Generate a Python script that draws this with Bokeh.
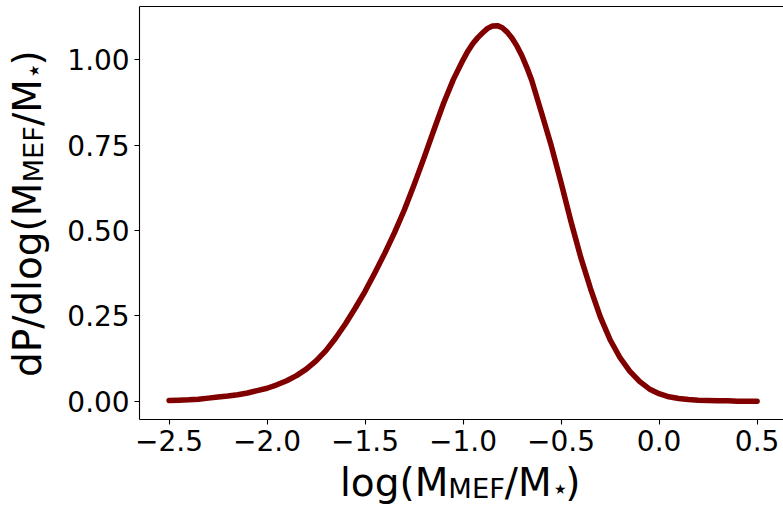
import math
from bokeh.plotting import figure
from bokeh.models import (Range1d, Label, FixedTicker, CustomJSTickFormatter,
                          ColumnDataSource, LinearAxis)
from bokeh.embed import file_html
from bokeh.resources import INLINE

# ---- data ----
log_ratio = [-2.50, -2.45, -2.40, -2.35, -2.30, -2.25, -2.20, -2.15, -2.10, -2.05,
             -2.00, -1.95, -1.90, -1.85, -1.80, -1.75, -1.70, -1.65, -1.60, -1.55,
             -1.50, -1.45, -1.40, -1.35, -1.30, -1.25, -1.20, -1.15, -1.10, -1.05,
             -1.00, -0.975, -0.95, -0.925, -0.90, -0.875, -0.85, -0.825, -0.80, -0.775,
             -0.75, -0.725, -0.70, -0.675, -0.65, -0.60, -0.55,
             -0.50, -0.45, -0.40, -0.35, -0.30, -0.25, -0.20, -0.15, -0.10, -0.05,
             0.00, 0.05, 0.10, 0.15, 0.20, 0.25, 0.30, 0.35, 0.40, 0.45, 0.50]
density = [0.002, 0.003, 0.004, 0.006, 0.009, 0.012, 0.015, 0.019, 0.024, 0.031,
           0.038, 0.048, 0.060, 0.075, 0.094, 0.118, 0.148, 0.185, 0.227, 0.273,
           0.322, 0.376, 0.433, 0.494, 0.560, 0.634, 0.712, 0.793, 0.872, 0.942,
           1.000, 1.026, 1.048, 1.065, 1.079, 1.092, 1.099, 1.100, 1.094, 1.081,
           1.063, 1.040, 1.012, 0.978, 0.940, 0.845, 0.748,
           0.640, 0.527, 0.422, 0.330, 0.247, 0.180, 0.128, 0.088, 0.058, 0.036,
           0.022, 0.013, 0.008, 0.005, 0.003, 0.002, 0.001, 0.001, 0.000, 0.000, 0.000]

x_ticks = [-2.5, -2.0, -1.5, -1.0, -0.5, 0.0, 0.5]
x_tick_labels = ["\u22122.5", "\u22122.0", "\u22121.5", "\u22121.0", "\u22120.5", "0.0", "0.5"]
y_ticks = [0.0, 0.25, 0.5, 0.75, 1.0]
y_tick_labels = ["0.00", "0.25", "0.50", "0.75", "1.00"]

# ---- layout (the frame fills the canvas; axes are pinned at the plot-box edges) ----
W, H = 783, 506
PX_PER_X = 196.0          # pixels per x unit
PX_PER_Y = 341.4          # pixels per y unit
X_ZERO_PX, Y_ZERO_PX = 658.6, 400.7
XA, XB = (0 - X_ZERO_PX) / PX_PER_X, (W - X_ZERO_PX) / PX_PER_X
YA, YB = (Y_ZERO_PX - H) / PX_PER_Y, Y_ZERO_PX / PX_PER_Y
BOX_X0, BOX_X1 = -2.65, (W - X_ZERO_PX) / PX_PER_X + 0.02
BOX_Y0, BOX_Y1 = -0.055, 1.155
FONT = "DejaVu Sans"
F_MAIN, F_SUB, SUB_DROP = 39.0, 27.3, 6.0
BASELINE_FIX = 16.0       # Bokeh's label anchor sits below the glyph baseline

def px_to_x(px):
    return (px - X_ZERO_PX) / PX_PER_X

def py_to_y(py):
    return (Y_ZERO_PX - py) / PX_PER_Y

p = figure(width=W, height=H, output_backend="svg", toolbar_location=None,
           x_range=Range1d(XA, XB), y_range=Range1d(YA, YB),
           x_axis_location=None, y_axis_location=None,
           min_border=0, min_border_left=0, min_border_right=0,
           min_border_top=0, min_border_bottom=0)
p.outline_line_color = None
p.grid.visible = False
p.background_fill_color = "white"
p.border_fill_color = "white"

src = ColumnDataSource(dict(x=log_ratio, y=density))
p.line("x", "y", source=src, line_color="#800000", line_width=5.5,
       line_cap="round", line_join="round")

def fmt(tvals, tlabs):
    return CustomJSTickFormatter(args=dict(tvals=tvals, tlabs=tlabs), code="""
        for (let i = 0; i < tvals.length; i++) {
            if (Math.abs(tvals[i] - tick) < 1e-9) { return tlabs[i]; }
        }
        return '';
    """)

def style(ax, tv, tl):
    ax.ticker = FixedTicker(ticks=tv)
    ax.formatter = fmt(tv, tl)
    ax.major_label_text_font = FONT
    ax.major_label_text_font_size = "28px"
    ax.major_label_text_color = "black"
    ax.axis_line_color = "black"
    ax.axis_line_width = 1.1
    ax.major_tick_line_color = "black"
    ax.major_tick_line_width = 1.1
    ax.major_tick_out = 5
    ax.major_tick_in = 0
    ax.minor_tick_line_color = None
    ax.major_label_standoff = 5

xaxis = LinearAxis(fixed_location=BOX_Y0, bounds=(BOX_X0, BOX_X1))
style(xaxis, x_ticks, x_tick_labels)
p.add_layout(xaxis, "below")

yaxis = LinearAxis(fixed_location=BOX_X0, bounds=(BOX_Y0, BOX_Y1))
style(yaxis, y_ticks, y_tick_labels)
p.add_layout(yaxis, "left")

top_spine = LinearAxis(fixed_location=BOX_Y1, bounds=(BOX_X0, BOX_X1),
                       ticker=FixedTicker(ticks=[]), major_tick_line_color=None,
                       minor_tick_line_color=None, major_label_text_font_size="0px",
                       axis_line_color="black", axis_line_width=1.1)
p.add_layout(top_spine, "above")

# glyph advance widths (em) for DejaVu Sans
EM = {"l": 0.278, "o": 0.612, "g": 0.635, "(": 0.390, ")": 0.390, "M": 0.863,
      "E": 0.632, "F": 0.575, "/": 0.337, "d": 0.635, "P": 0.603, "\u22c6": 0.5}

def width(s, size):
    return sum(EM[c] for c in s) * size

def pieces(first):
    return [(first, F_MAIN, 0.0), ("MEF", F_SUB, SUB_DROP), ("/M", F_MAIN, 0.0),
            ("\u22c6", F_SUB, SUB_DROP), (")", F_MAIN, 0.0)]

# x-axis label
xp = 339.5
base_y = 498.3 - BASELINE_FIX
for s, size, drop in pieces("log(M"):
    p.add_layout(Label(x=px_to_x(xp), y=py_to_y(base_y + drop), text=s,
                       text_font=FONT, text_font_size=f"{size}px", text_color="black",
                       text_align="left", text_baseline="alphabetic"))
    xp += width(s, size)

# y-axis label (rotated, reads bottom to top)
yl = pieces("dP/dlog(M")
total = sum(width(s, size) for s, size, _ in yl)
yp = 213.2 + total / 2
base_x = 43.3 - BASELINE_FIX
for s, size, drop in yl:
    p.add_layout(Label(x=px_to_x(base_x + drop), y=py_to_y(yp), text=s, angle=math.pi / 2,
                       text_font=FONT, text_font_size=f"{size}px", text_color="black",
                       text_align="left", text_baseline="alphabetic"))
    yp -= width(s, size)

open("out.html", "w").write(file_html(p, INLINE))
